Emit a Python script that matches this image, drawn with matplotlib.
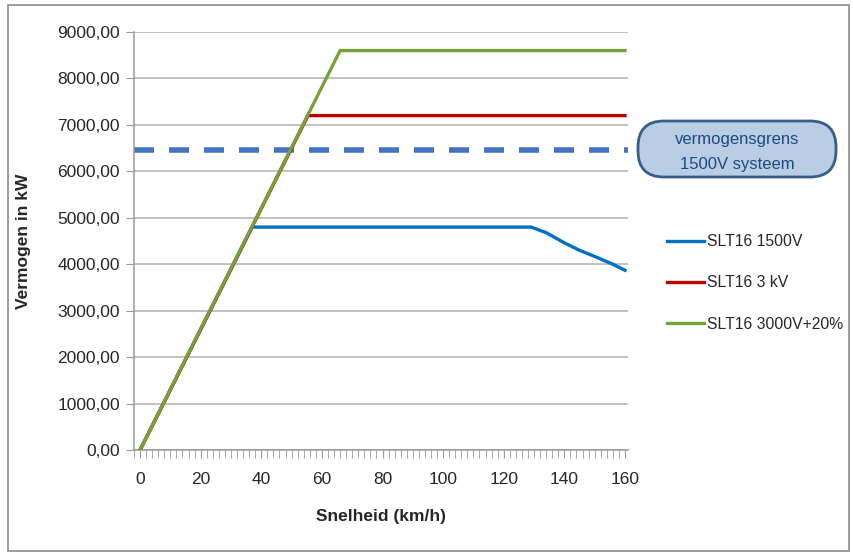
import matplotlib
matplotlib.use("Agg")
import matplotlib.pyplot as plt
from matplotlib.patches import FancyBboxPatch, Rectangle
from matplotlib.ticker import FuncFormatter, MultipleLocator

plt.rcParams['font.family'] = ['Liberation Sans', 'DejaVu Sans']

# Speed (km/h) and power (kW) curves
v_1500 = [0, 37, 129, 134, 140, 145, 151, 156, 160]
p_1500 = [0, 4800, 4800, 4680, 4460, 4300, 4140, 4000, 3870]
v_3kv = [0, 55.4, 160]
p_3kv = [0, 7200, 7200]
v_3000_20 = [0, 66, 160]
p_3000_20 = [0, 8600, 8600]
grens_1500 = 6470

series_labels = ["SLT16 1500V", "SLT16 3 kV", "SLT16 3000V+20%"]
callout_text = "vermogensgrens\n1500V systeem"

W, H = 854, 555
fig = plt.figure(figsize=(W / 100, H / 100), dpi=100)

# outer frame
fig.patches.append(Rectangle((8 / W, 4 / H), 841 / W, 546 / H, transform=fig.transFigure,
                             fill=False, edgecolor='#8c8c8c', linewidth=1.2))

ax = fig.add_axes([134 / W, (H - 450) / H, (628 - 134) / W, (450 - 32) / H])

ax.axhline(grens_1500, color='#4472C4', linewidth=4, dashes=(3.6, 2.7), zorder=2)
ax.plot(v_1500, p_1500, color='#0070C0', linewidth=2.4, label=series_labels[0], zorder=3)
ax.plot(v_3kv, p_3kv, color='#C00000', linewidth=2.4, label=series_labels[1], zorder=3)
ax.plot(v_3000_20, p_3000_20, color='#77A03A', linewidth=2.4, label=series_labels[2], zorder=4)

ax.set_xlim(-2, 161)
ax.set_ylim(0, 9000)
ax.xaxis.set_major_locator(MultipleLocator(20))
ax.xaxis.set_minor_locator(MultipleLocator(2))
ax.yaxis.set_major_locator(MultipleLocator(1000))
ax.yaxis.set_major_formatter(FuncFormatter(lambda y, _: f"{y:.2f}".replace('.', ',')))

ax.grid(axis='y', color='#b0b0b0', linewidth=1.1)
ax.set_axisbelow(True)
for s in ['top', 'right']:
    ax.spines[s].set_visible(False)
for s in ['left', 'bottom']:
    ax.spines[s].set_color('#9a9a9a')
    ax.spines[s].set_linewidth(1.1)

ax.tick_params(axis='y', which='major', length=6, color='#9a9a9a', labelsize=12.5,
               labelcolor='#262626', pad=4)
ax.tick_params(axis='x', which='major', length=6, color='#9a9a9a', labelsize=12.5,
               labelcolor='#262626', pad=10)
ax.tick_params(axis='x', which='minor', length=6, color='#9a9a9a')

ax.set_xlabel("Snelheid (km/h)", fontsize=12.5, fontweight='bold', color='#262626', labelpad=16)
ax.set_ylabel("Vermogen in kW", fontsize=12.5, fontweight='bold', color='#262626', labelpad=19)

leg = ax.legend(loc='upper left', bbox_to_anchor=(667 / W, (H - 234) / H), bbox_transform=fig.transFigure,
                frameon=False, fontsize=11.3, handlelength=2.35, handletextpad=0.2,
                labelspacing=1.68, borderaxespad=0, borderpad=0)
for t in leg.get_texts():
    t.set_color('#262626')

# callout box for the 1500 V power limit
bx0, by0, bw, bh = 638, 121, 198, 56
rad = 26
box = FancyBboxPatch(((bx0 + rad) / W, (H - by0 - bh + rad) / H), (bw - 2 * rad) / W, (bh - 2 * rad) / H,
                     boxstyle="round", transform=fig.transFigure, facecolor='#B9CDE5',
                     edgecolor='#385D8A', linewidth=2, mutation_aspect=W / H)
box.set_boxstyle("round", pad=rad / W, rounding_size=rad / W)
fig.patches.append(box)
fig.text((bx0 + bw / 2) / W, (H - by0 - bh / 2 - 3) / H, callout_text, ha='center', va='center',
         fontsize=12, color='#1F497D', linespacing=1.9)

fig.savefig("out.png", dpi=100)
